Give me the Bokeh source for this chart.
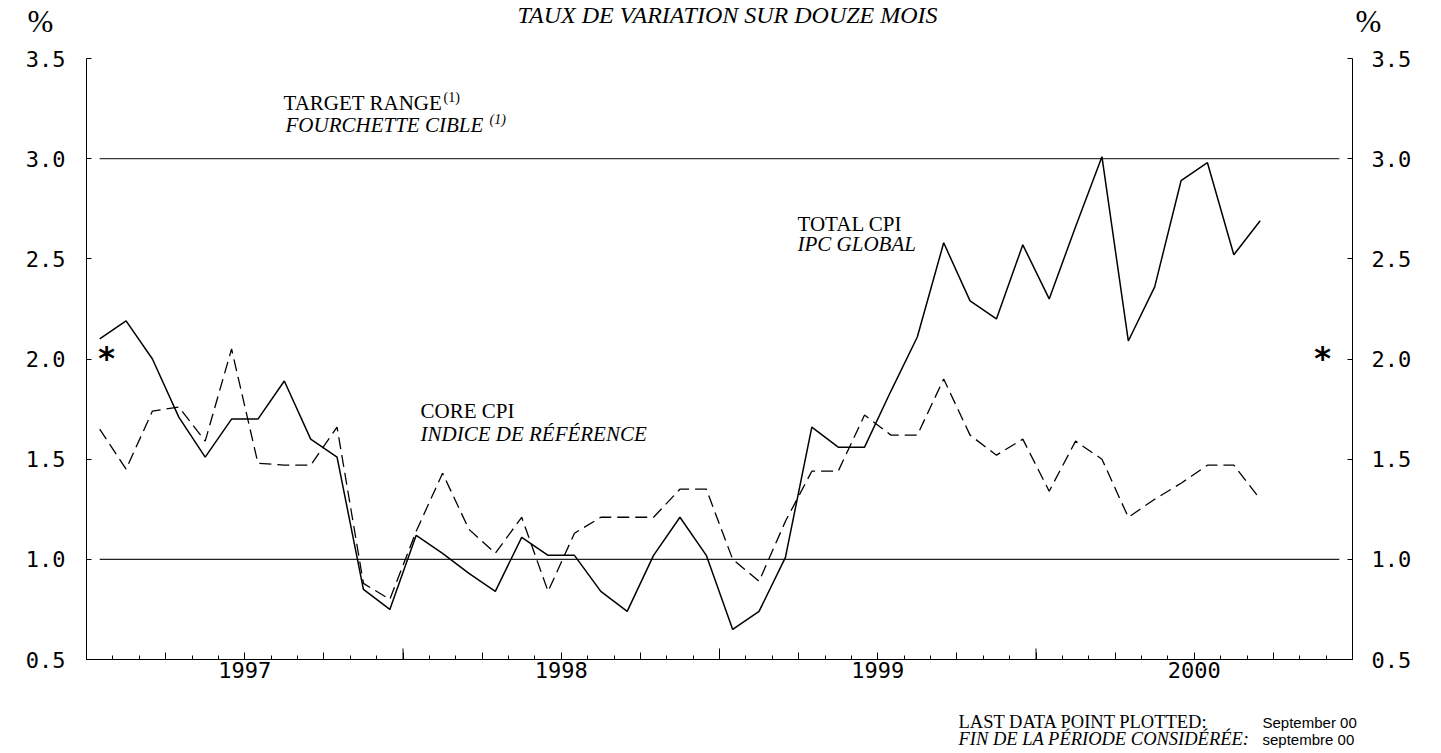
from bokeh.plotting import figure
from bokeh.models import FixedTicker, LinearAxis, Range1d, Label, NumeralTickFormatter
from bokeh.embed import file_html
from bokeh.resources import INLINE

# ---------------- data ----------------
start_year = 1997
# 12-month rate of change, monthly, Jan 1997 .. Sep 2000
total_cpi = [2.10, 2.19, 2.00, 1.71, 1.51, 1.70, 1.70, 1.89, 1.60, 1.51, 0.85, 0.75,
             1.12, 1.03, 0.93, 0.84, 1.11, 1.02, 1.02, 0.84, 0.74, 1.02, 1.21, 1.02,
             0.65, 0.74, 1.01, 1.66, 1.56, 1.56, 1.84, 2.11, 2.58, 2.29, 2.20, 2.57,
             2.30, 2.66, 3.01, 2.09, 2.36, 2.89, 2.98, 2.52, 2.69]
core_cpi = [1.65, 1.45, 1.74, 1.76, 1.59, 2.05, 1.48, 1.47, 1.47, 1.66, 0.88, 0.80,
            1.14, 1.43, 1.15, 1.03, 1.21, 0.84, 1.13, 1.21, 1.21, 1.21, 1.35, 1.35,
            1.00, 0.89, 1.19, 1.44, 1.44, 1.72, 1.62, 1.62, 1.90, 1.62, 1.52, 1.60,
            1.34, 1.59, 1.50, 1.21, 1.30, 1.38, 1.47, 1.47, 1.30]
target_low, target_high = 1.0, 3.0
target_span = ["1997-01", "2000-12"]
year_labels = ["1997", "1998", "1999", "2000"]
y_ticks = [0.5, 1.0, 1.5, 2.0, 2.5, 3.0, 3.5]
asterisk_level = 2.0


def month_x(s):
    y, m = map(int, s.split("-"))
    return (y - start_year) * 12 + (m - 1) + 0.5


months = [f"{start_year + i // 12}-{i % 12 + 1:02d}" for i in range(len(total_cpi))]
xs = [month_x(m) for m in months]
n_months = 12 * len(year_labels)

# ---------------- geometry (page pixels) ----------------
W, H = 1440, 752
FL, FR, FT, FB = 86, 1352, 58, 659  # chart area edges on the page
BL = 0.375  # observed shift of the text anchor (fraction of font size)
Y0, Y1 = y_ticks[0], y_ticks[-1]


def dx(px):
    return (px - FL) / (FR - FL) * n_months


def dy(py):
    return Y0 + (FB - py) / (FB - FT) * (Y1 - Y0)


SERIF = "Liberation Serif"
TICK_FONT = "DejaVu Sans Mono"

p = figure(width=W, height=H, x_range=Range1d(dx(0), dx(W)), y_range=Range1d(dy(H), dy(0)),
           output_backend="svg", toolbar_location=None, tools="",
           x_axis_location=None, y_axis_location=None,
           min_border_left=0, min_border_right=0, min_border_top=0, min_border_bottom=0)
p.outline_line_color = None
p.grid.visible = False
p.background_fill_color = "white"
p.border_fill_color = "white"

# x axis: quarterly ticks (labels at July), monthly minor ticks
q_ticks = list(range(0, n_months + 1, 3))
xa = LinearAxis(fixed_location=Y0, bounds=(0, n_months))
p.add_layout(xa, "below")
xa.ticker = FixedTicker(ticks=q_ticks, minor_ticks=list(range(0, n_months + 1)))
ov = {t: "" for t in q_ticks}
for i, lab in enumerate(year_labels):
    ov[i * 12 + 6] = lab
xa.major_label_overrides = ov
xa.major_tick_in = 7
xa.major_tick_out = 0
xa.minor_tick_in = 4
xa.minor_tick_out = 0
xa.axis_line_color = "black"
xa.major_tick_line_color = "black"
xa.minor_tick_line_color = "black"
xa.major_label_text_font = TICK_FONT
xa.major_label_text_font_size = "22px"
xa.major_label_text_color = "black"
xa.major_label_standoff = 2

ya = LinearAxis(fixed_location=0, bounds=(Y0, Y1))
p.add_layout(ya, "left")
yr = LinearAxis(fixed_location=n_months, bounds=(Y0, Y1))
p.add_layout(yr, "right")
for ax, so in ((ya, 21), (yr, 19)):
    ax.ticker = FixedTicker(ticks=y_ticks)
    ax.formatter = NumeralTickFormatter(format="0.0")
    ax.major_tick_in = 5
    ax.major_tick_out = 0
    ax.minor_tick_line_color = None
    ax.axis_line_color = "black"
    ax.major_tick_line_color = "black"
    ax.major_label_text_font = TICK_FONT
    ax.major_label_text_font_size = "22px"
    ax.major_label_text_color = "black"
    ax.major_label_standoff = so

# long year ticks at each January
YEAR_TICK = 11 / (FB - FT) * (Y1 - Y0)
yx = [i * 12 for i in range(1, len(year_labels))]
p.segment(x0=yx, y0=[Y0] * len(yx), x1=yx, y1=[Y0 + YEAR_TICK] * len(yx),
          line_color="black", line_width=1)

# target range lines
tx = [month_x(s) for s in target_span]
p.line(tx, [target_high] * 2, line_color="#3a3a3a", line_width=1.1)
p.line(tx, [target_low] * 2, line_color="#222222", line_width=1.1)

# series
p.line(xs, core_cpi, line_color="black", line_width=1.3, line_dash="12 6")
p.line(xs, total_cpi, line_color="black", line_width=1.5)


def lab(text, px, py, size, font=SERIF, style="normal", align="left"):
    s = float(size.replace("px", ""))
    p.add_layout(Label(x=dx(px), y=dy(py - BL * s), text=text, text_font=font,
                       text_font_size=size, text_font_style=style,
                       text_align=align, text_baseline="alphabetic",
                       text_color="black"))


lab("TAUX DE VARIATION SUR DOUZE MOIS", 727, 23, "24px", style="italic", align="center")
lab("%", 27, 33, "31px")
lab("%", 1355, 33, "31px")
lab("TARGET RANGE", 283, 110, "21px")
lab("(1)", 443, 102, "14px")
lab("FOURCHETTE CIBLE", 285, 132, "21px", style="italic")
lab("(1)", 489, 124, "14px", style="italic")
lab("CORE CPI", 420, 418, "21px")
lab("INDICE DE RÉFÉRENCE", 420, 441.5, "21px", style="italic")
lab("TOTAL CPI", 797, 231, "21px")
lab("IPC GLOBAL", 797, 251, "21px", style="italic")
lab("LAST DATA POINT PLOTTED:", 958, 728, "18.5px")
lab("FIN DE LA PÉRIODE CONSIDÉRÉE:", 958, 745, "18.5px", style="italic")
lab("September 00", 1262, 728, "15px", font="Liberation Sans")
lab("septembre 00", 1262, 745, "15px", font="Liberation Sans")

# asterisks at the 2.0 level
ast_shift = dy(357) - dy(358)
for px in (106, 1322):
    p.add_layout(Label(x=dx(px), y=asterisk_level + ast_shift, text="*",
                       text_font="DejaVu Sans", text_font_size="32px",
                       text_font_style="bold", text_align="center",
                       text_baseline="alphabetic", text_color="black"))

open("out.html", "w").write(file_html(p, INLINE))
